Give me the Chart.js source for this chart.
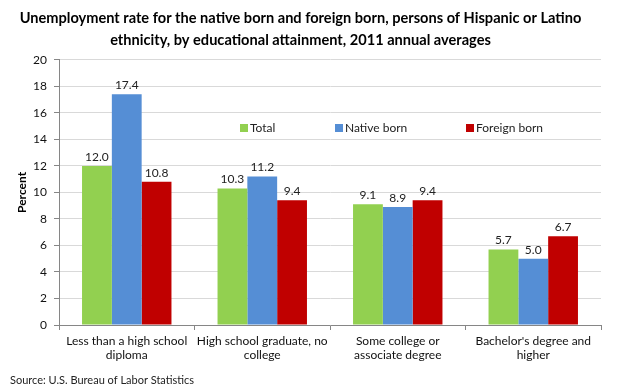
<!DOCTYPE html>
<html>
<head>
<meta charset="utf-8">
<script src="https://cdn.jsdelivr.net/npm/chart.js@4"></script>
<style>
  html, body { margin: 0; padding: 0; background: #fff; }
  #wrap { width: 620px; height: 391px; position: relative; }
</style>
</head>
<body>
<div id="wrap"><canvas id="chart" width="620" height="391"></canvas></div>
<script>
// values
const categories = [
  ["Less than a high school", "diploma"],
  ["High school graduate, no", "college"],
  ["Some college or", "associate degree"],
  ["Bachelor's degree and", "higher"]
];
const seriesNames = ["Total", "Native born", "Foreign born"];
const total = [12.0, 10.3, 9.1, 5.7];
const nativeBorn = [17.4, 11.2, 8.9, 5.0];
const foreignBorn = [10.8, 9.4, 9.4, 6.7];
const yTicks = [0, 2, 4, 6, 8, 10, 12, 14, 16, 18, 20];

const colors = ['#92d050', '#558ed5', '#c00000'];
const FONT = "Lato, 'Open Sans', sans-serif";

// labels on top of bars, legend inside the plot, source line
const extras = {
  id: 'extras',
  afterDatasetsDraw(chart) {
    const ctx = chart.ctx;
    ctx.save();
    ctx.font = '12px ' + FONT;
    ctx.fillStyle = '#222';
    ctx.textAlign = 'center';
    ctx.textBaseline = 'bottom';
    chart.data.datasets.forEach((ds, i) => {
      chart.getDatasetMeta(i).data.forEach((bar, j) => {
        ctx.fillText(ds.data[j].toFixed(1), bar.x, bar.y - 3);
      });
    });

    // legend
    const legX = [240, 335, 466];
    const legY = 128;
    ctx.textAlign = 'left';
    ctx.textBaseline = 'middle';
    seriesNames.forEach((name, i) => {
      ctx.fillStyle = colors[i];
      ctx.fillRect(legX[i], legY - 4, 8, 8);
      ctx.fillStyle = '#222';
      ctx.fillText(name, legX[i] + 10, legY);
    });

    // source
    ctx.font = '11px ' + FONT;
    ctx.fillText('Source: U.S. Bureau of Labor Statistics', 10, 380);
    ctx.restore();
  }
};

new Chart(document.getElementById('chart'), {
  type: 'bar',
  data: {
    labels: categories,
    datasets: [
      { label: seriesNames[0], data: total, backgroundColor: colors[0] },
      { label: seriesNames[1], data: nativeBorn, backgroundColor: colors[1] },
      { label: seriesNames[2], data: foreignBorn, backgroundColor: colors[2] }
    ]
  },
  options: {
    responsive: false,
    animation: false,
    layout: { padding: { left: 0, right: 19, top: 0, bottom: 18 } },
    datasets: { bar: { categoryPercentage: 0.66, barPercentage: 1.0 } },
    plugins: {
      legend: { display: false },
      tooltip: { enabled: false },
      title: {
        display: true,
        text: ['Unemployment rate for the native born and foreign born, persons of Hispanic or Latino',
               'ethnicity, by educational attainment, 2011 annual averages'],
        color: '#000',
        font: { family: FONT, size: 14.6, weight: 'bold', lineHeight: 1.5 },
        padding: { top: 7, bottom: 9 }
      }
    },
    scales: {
      x: {
        grid: { offset: true, drawOnChartArea: false, color: '#868686', tickLength: 5 },
        border: { color: '#868686' },
        ticks: { color: '#111', font: { family: FONT, size: 12 }, padding: 4, maxRotation: 0, autoSkip: false },
        afterFit(s) { s.height = 48; }
      },
      y: {
        min: 0, max: 20,
        afterBuildTicks(s) { s.ticks = yTicks.map(v => ({ value: v })); },
        grid: { color: '#d9d9d9', tickColor: '#868686', tickLength: 5 },
        border: { color: '#868686' },
        ticks: { color: '#111', font: { family: FONT, size: 12 }, padding: 7 },
        title: { display: true, text: 'Percent', color: '#000', font: { family: FONT, size: 12, weight: 'bold' }, padding: { top: 15, bottom: 0 } },
        afterFit(s) { s.width = 59; }
      }
    }
  },
  plugins: [extras]
});
</script>
</body>
</html>
